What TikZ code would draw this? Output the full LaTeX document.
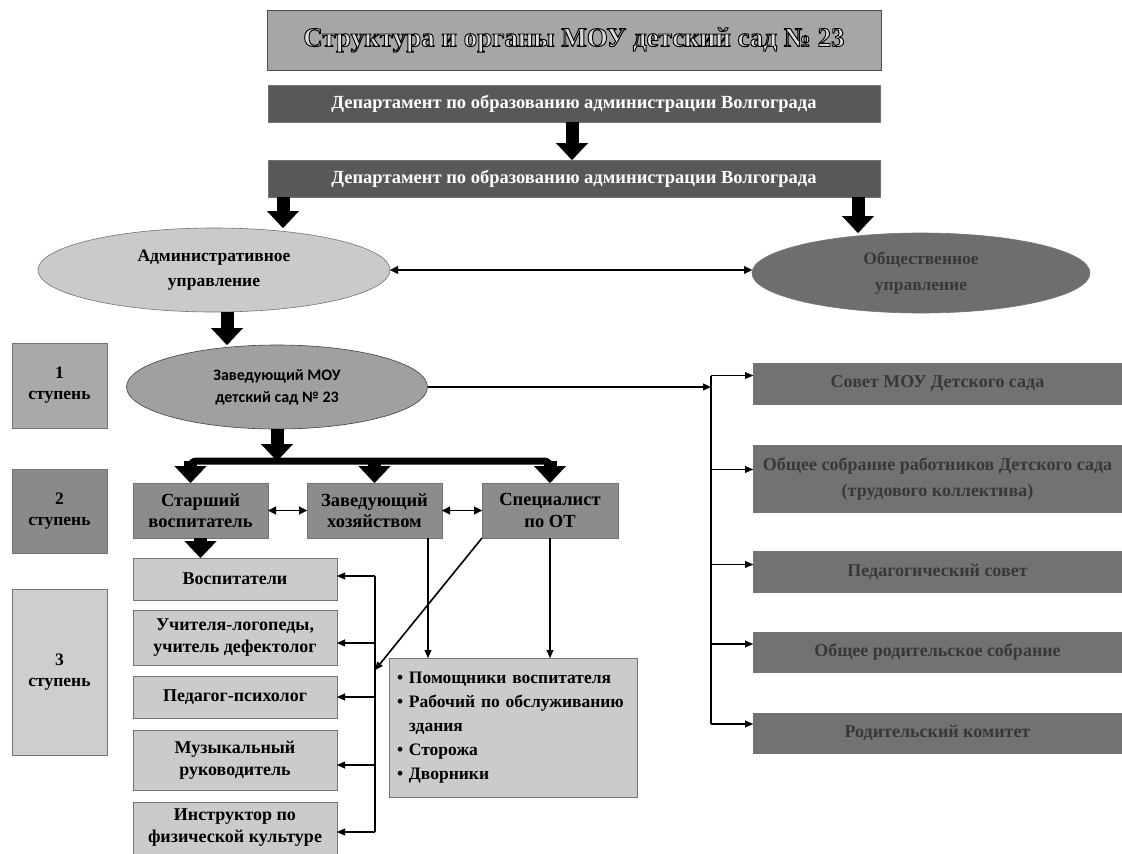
\documentclass[tikz,border=0pt]{standalone}
\usepackage{fontspec}
\setmainfont{Liberation Serif}
\newfontfamily\calfont{Carlito}
\newfontfamily\titlefont[BoldFeatures={FakeBold=3.5}]{Liberation Serif}
\usetikzlibrary{arrows.meta,shapes.geometric,calc}
\definecolor{titlefill}{HTML}{A6A6A6}
\definecolor{deptfill}{HTML}{585858}
\definecolor{admfill}{HTML}{CACACA}
\definecolor{obsfill}{HTML}{6E6E6E}
\definecolor{zavfill}{HTML}{A0A0A0}
\definecolor{lvlone}{HTML}{A9A9A9}
\definecolor{lvltwo}{HTML}{8A8A8A}
\definecolor{lvlthree}{HTML}{CECECE}
\definecolor{midfill}{HTML}{8C8C8C}
\definecolor{lightfill}{HTML}{CBCBCB}
\definecolor{rightfill}{HTML}{727272}
\definecolor{darktext}{HTML}{383838}
\begin{document}
\begin{tikzpicture}[x=1pt,y=-1pt,
  base/.style={inner sep=0pt, outer sep=0pt, align=center, draw=black!55, line width=0.6pt,
    font=\bfseries\fontsize{17.5}{21}\selectfont},
  box/.style={base, rectangle},
  oval/.style={base, ellipse},
  midbox/.style={box, fill=midfill, minimum height=55pt, font=\bfseries\fontsize{18.5}{21.5}\selectfont},
  lowbox/.style={box, fill=lightfill, minimum width=204pt, font=\bfseries\fontsize{18}{22}\selectfont},
  rightbox/.style={box, fill=rightfill, text=darktext, minimum width=369pt, font=\bfseries\fontsize{18}{26}\selectfont},
  deptbox/.style={box, fill=deptfill, text=white, minimum width=612pt, minimum height=37pt, font=\bfseries\fontsize{18.5}{22}\selectfont},
  bigarrow/.style={line width=13pt, -{Triangle[width=32pt,length=17pt,line width=0.1pt]}},
  thinarr/.style={line width=1.6pt, -{Triangle[width=7pt,length=8pt,line width=0.1pt]}},
  dblarr/.style={line width=1.8pt, {Triangle[width=8pt,length=8pt,line width=0.1pt]}-{Triangle[width=8pt,length=8pt,line width=0.1pt]}},
  conn/.style={line width=1.6pt},
]
\useasboundingbox (0,0) rectangle (1122,854);
\fill[white] (0,0) rectangle (1122,854);

% header
\node[box, fill=titlefill, draw=black!70, minimum width=614pt, minimum height=60pt] (title) at (574,40)
  {\color{black}\special{pdf:literal direct 0.86 g}\titlefont\bfseries\fontsize{27}{30}\selectfont Структура и органы МОУ детский сад № 23};
\node[deptbox] (d1) at (574,103.5) {Департамент по образованию администрации Волгограда};
\node[deptbox] (d2) at (574,178.5) {Департамент по образованию администрации Волгограда};

% ellipses
\node[oval, fill=admfill, minimum width=352pt, minimum height=84pt,
  font=\bfseries\fontsize{17.5}{25}\selectfont] (adm) at (214,270) {Административное\\управление};
\node[oval, fill=obsfill, text=darktext, minimum width=338pt, minimum height=80pt,
  font=\bfseries\fontsize{17.5}{26}\selectfont] (obs) at (921,273) {Общественное\\управление};
\node[oval, fill=zavfill, draw=black!75, minimum width=301pt, minimum height=84pt,
  font=\calfont\bfseries\fontsize{16}{22}\selectfont] (zav) at (277,387) {Заведующий МОУ\\детский сад № 23};

% level labels
\node[box, fill=lvlone, minimum width=95pt, minimum height=85pt] (l1) at (59.5,385.5) {1\\ступень};
\node[box, fill=lvltwo, minimum width=95pt, minimum height=84pt] (l2) at (59.5,511) {2\\ступень};
\node[box, fill=lvlthree, minimum width=95pt, minimum height=166pt] (l3) at (59.5,672) {3\\ступень};

% level 2 boxes
\node[midbox, minimum width=135pt] (s1) at (200.5,510.5) {Старший\\воспитатель};
\node[midbox, minimum width=135pt] (s2) at (374.5,510.5) {Заведующий\\хозяйством};
\node[midbox, minimum width=136pt] (s3) at (550,510.5) {Специалист\\по ОТ};

% level 3 boxes
\node[lowbox, minimum height=42pt] (t1) at (235,579) {Воспитатели};
\node[lowbox, minimum height=55pt] (t2) at (235,637.5) {Учителя-логопеды,\\учитель дефектолог};
\node[lowbox, minimum height=42pt] (t3) at (235,697) {Педагог-психолог};
\node[lowbox, minimum height=60pt] (t4) at (235,760) {Музыкальный\\руководитель};
\node[lowbox, minimum height=52pt] (t5) at (235,828) {Инструктор по\\физической культуре};

\node[box, fill=lightfill, align=left, text width=232pt, inner xsep=8pt, minimum height=139pt,
  font=\bfseries\fontsize{17.5}{24}\selectfont] (bb) at (513,727.5)
  {• Помощники воспитателя\\
   • Рабочий по обслуживанию\\
   \hphantom{• }здания\\
   • Сторожа\\
   • Дворники};

% right boxes
\node[rightbox, minimum height=41pt] (r1) at (937.5,383.5) {Совет МОУ Детского сада};
\node[rightbox, minimum height=67pt] (r2) at (937.5,478.5) {Общее собрание работников Детского сада\\(трудового коллектива)};
\node[rightbox, minimum height=41pt] (r3) at (937.5,571.5) {Педагогический совет};
\node[rightbox, minimum height=40pt] (r4) at (937.5,652) {Общее родительское собрание};
\node[rightbox, minimum height=40pt] (r5) at (937.5,733) {Родительский комитет};

% helper coordinates
\coordinate (bar) at (0,461);
\coordinate (vx) at (375,0);
\coordinate (vr) at (711,0);
\coordinate (dg) at (0,670);
\coordinate (pl) at ([xshift=15pt]d2.south west);
\coordinate (pr) at ([xshift=-22pt]d2.south east);
\coordinate (pa) at ([xshift=13pt]adm.south);
\coordinate (ps) at ([xshift=-10pt]s1.north);
\coordinate (hx) at ([xshift=-14pt]s2.south east);
\coordinate (a1) at ([yshift=3pt]t1.east);
\coordinate (a2) at ([yshift=-5.5pt]t2.east);
\coordinate (a3) at (t3.east);
\coordinate (a4) at ([yshift=-5pt]t4.east);
\coordinate (a5) at ([yshift=-4pt]t5.east);
\coordinate (b1) at ([yshift=8pt]r1.west);
\coordinate (b2) at ([yshift=9pt]r2.west);
\coordinate (b3) at ([yshift=7pt]r3.west);
\coordinate (b4) at ([yshift=8pt]r4.west);
\coordinate (b5) at ([yshift=9pt]r5.west);

% thick arrows
\draw[bigarrow] ([xshift=-2pt]d1.south) -- ([xshift=-2pt]d2.north);
\draw[bigarrow] (pl) -- (pl |- adm.north);
\draw[bigarrow] (pr) -- (pr |- obs.north);
\draw[bigarrow] (pa) -- (pa |- zav.north);
\draw[bigarrow] (zav.south) -- (zav.south |- bar);
\draw[line width=7pt, rounded corners=6pt] ([yshift=-10pt]ps |- bar) -- (ps |- bar) -- (s3.north |- bar) -- ([yshift=-10pt]s3.north |- bar);
\draw[bigarrow] (ps |- bar) -- (ps);
\draw[bigarrow] (s2.north |- bar) -- (s2.north);
\draw[bigarrow] (s3.north |- bar) -- (s3.north);
\draw[bigarrow] (s1.south) -- (s1.south |- t1.north);

% thin connectors
\draw[dblarr] (adm.east) -- (adm.east -| obs.west);
\draw[dblarr] (s1.east) -- (s2.west);
\draw[dblarr] (s2.east) -- (s3.west);

\draw[conn] (vx |- a1) -- (vx |- a5);
\foreach \a in {a1,a2,a3,a4,a5} \draw[thinarr] (vx |- \a) -- (\a);
\draw[thinarr] (s3.south west) -- (vx |- dg);
\draw[thinarr] (hx) -- (hx |- bb.north);
\draw[thinarr] (s3.south) -- (s3.south |- bb.north);

\draw[thinarr] (zav.east) -- (vr |- zav.east);
\draw[conn] (vr |- b1) -- (vr |- b5);
\foreach \b in {b1,b2,b3,b4,b5} \draw[thinarr] (vr |- \b) -- (\b);
\end{tikzpicture}
\end{document}
